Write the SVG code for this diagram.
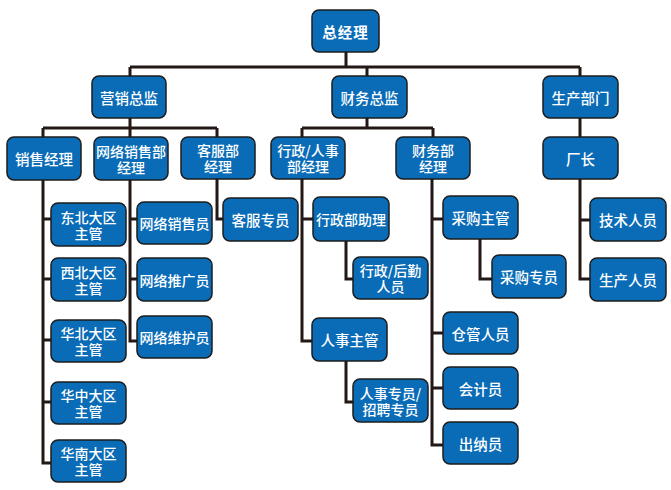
<svg xmlns="http://www.w3.org/2000/svg" width="671" height="490" viewBox="0 0 671 490">
<style>
.b{fill:#0a6cb7;stroke:#1c1c1c;stroke-width:1.5}
.t{fill:#fff;font-family:"Noto Sans CJK SC","Noto Sans",sans-serif;font-size:14.5px;font-weight:500;text-anchor:middle;dominant-baseline:central}
.s{font-size:14px}
.c{fill:none;stroke:#231815;stroke-width:3}
</style>
<rect width="671" height="490" fill="#fff"/>
<g id="connectors" class="c">
<path d="M346,52V67M130,67H580M130,67V76M367,67V76M580,67V76"/>
<path d="M130,118V128M43,128H217M43,128V137M130,128V137M217,128V137"/>
<path d="M367,118V128M302,128H433M302,128V137M433,128V137"/>
<path d="M580,118V137"/>
<path d="M43,180V463H51M43,219H51M43,279H51M43,340H51M43,402H51"/>
<path d="M130,180V341H137M130,219H137M130,279H137"/>
<path d="M217,178V219H223"/>
<path d="M302,178V341H312M302,219H313"/>
<path d="M346,241V279H353"/>
<path d="M346,361V402H353"/>
<path d="M432,178V445H443M432,219H443M432,333H443M432,388H443"/>
<path d="M480,239V279H492"/>
<path d="M580,179V279H590M580,220H590"/>
</g>
<g id="n1"><rect class="b" x="312" y="10" width="67" height="42" rx="7"/><text class="t" x="345.5" y="31" style="font-weight:700;letter-spacing:1px">总经理</text></g>
<g id="n2"><rect class="b" x="92" y="76" width="74" height="42" rx="7"/><text class="t" x="129" y="97">营销总监</text></g>
<g id="n3"><rect class="b" x="332" y="76" width="75" height="42" rx="7"/><text class="t" x="369.5" y="97">财务总监</text></g>
<g id="n4"><rect class="b" x="543" y="76" width="75" height="42" rx="7"/><text class="t" x="580.5" y="97">生产部门</text></g>
<g id="n5"><rect class="b" x="7" y="137" width="74" height="43" rx="7"/><text class="t" x="44" y="158.5">销售经理</text></g>
<g id="n6"><rect class="b" x="94" y="137" width="74" height="43" rx="7"/><text class="t s" x="131" y="150.5">网络销售部<tspan x="131" dy="16">经理</tspan></text></g>
<g id="n7"><rect class="b" x="181" y="137" width="74" height="42" rx="7"/><text class="t s" x="218" y="150">客服部<tspan x="218" dy="16">经理</tspan></text></g>
<g id="n8"><rect class="b" x="271" y="137" width="74" height="42" rx="7"/><text class="t s" x="308" y="150">行政/人事<tspan x="308" dy="16">部经理</tspan></text></g>
<g id="n9"><rect class="b" x="396" y="137" width="74" height="42" rx="7"/><text class="t s" x="433" y="150">财务部<tspan x="433" dy="16">经理</tspan></text></g>
<g id="n10"><rect class="b" x="543" y="137" width="75" height="42" rx="7"/><text class="t" x="580.5" y="158">厂长</text></g>
<g id="n11"><rect class="b" x="51" y="203" width="75" height="43" rx="7"/><text class="t s" x="88.5" y="216.5">东北大区<tspan x="88.5" dy="16">主管</tspan></text></g>
<g id="n12"><rect class="b" x="51" y="258" width="75" height="43" rx="7"/><text class="t s" x="88.5" y="271.5">西北大区<tspan x="88.5" dy="16">主管</tspan></text></g>
<g id="n13"><rect class="b" x="51" y="320" width="75" height="42" rx="7"/><text class="t s" x="88.5" y="333">华北大区<tspan x="88.5" dy="16">主管</tspan></text></g>
<g id="n14"><rect class="b" x="51" y="382" width="75" height="42" rx="7"/><text class="t s" x="88.5" y="395">华中大区<tspan x="88.5" dy="16">主管</tspan></text></g>
<g id="n15"><rect class="b" x="51" y="440" width="75" height="42" rx="7"/><text class="t s" x="88.5" y="453">华南大区<tspan x="88.5" dy="16">主管</tspan></text></g>
<g id="n16"><rect class="b" x="137" y="202" width="75" height="42" rx="7"/><text class="t s" x="174.5" y="223">网络销售员</text></g>
<g id="n17"><rect class="b" x="137" y="258" width="75" height="43" rx="7"/><text class="t s" x="174.5" y="279.5">网络推广员</text></g>
<g id="n18"><rect class="b" x="137" y="316" width="75" height="42" rx="7"/><text class="t s" x="174.5" y="337">网络维护员</text></g>
<g id="n19"><rect class="b" x="223" y="198" width="75" height="43" rx="7"/><text class="t" x="260.5" y="219.5">客服专员</text></g>
<g id="n20"><rect class="b" x="313" y="197" width="76" height="44" rx="7"/><text class="t s" x="351" y="219">行政部助理</text></g>
<g id="n21"><rect class="b" x="353" y="257" width="75" height="42" rx="7"/><text class="t s" x="390.5" y="270">行政/后勤<tspan x="390.5" dy="16">人员</tspan></text></g>
<g id="n22"><rect class="b" x="312" y="318" width="75" height="43" rx="7"/><text class="t" x="349.5" y="339.5">人事主管</text></g>
<g id="n23"><rect class="b" x="353" y="379" width="75" height="43" rx="7"/><text class="t s" x="390.5" y="392.5">人事专员/<tspan x="390.5" dy="16">招聘专员</tspan></text></g>
<g id="n24"><rect class="b" x="443" y="196" width="75" height="43" rx="7"/><text class="t" x="480.5" y="217.5">采购主管</text></g>
<g id="n25"><rect class="b" x="492" y="255" width="74" height="43" rx="7"/><text class="t" x="529" y="276.5">采购专员</text></g>
<g id="n26"><rect class="b" x="443" y="312" width="75" height="42" rx="7"/><text class="t" x="480.5" y="333">仓管人员</text></g>
<g id="n27"><rect class="b" x="443" y="367" width="75" height="42" rx="7"/><text class="t" x="480.5" y="388">会计员</text></g>
<g id="n28"><rect class="b" x="443" y="422" width="75" height="42" rx="7"/><text class="t" x="480.5" y="443">出纳员</text></g>
<g id="n29"><rect class="b" x="590" y="198" width="76" height="43" rx="7"/><text class="t" x="628" y="219.5">技术人员</text></g>
<g id="n30"><rect class="b" x="590" y="258" width="76" height="43" rx="7"/><text class="t" x="628" y="279.5">生产人员</text></g>
</svg>
